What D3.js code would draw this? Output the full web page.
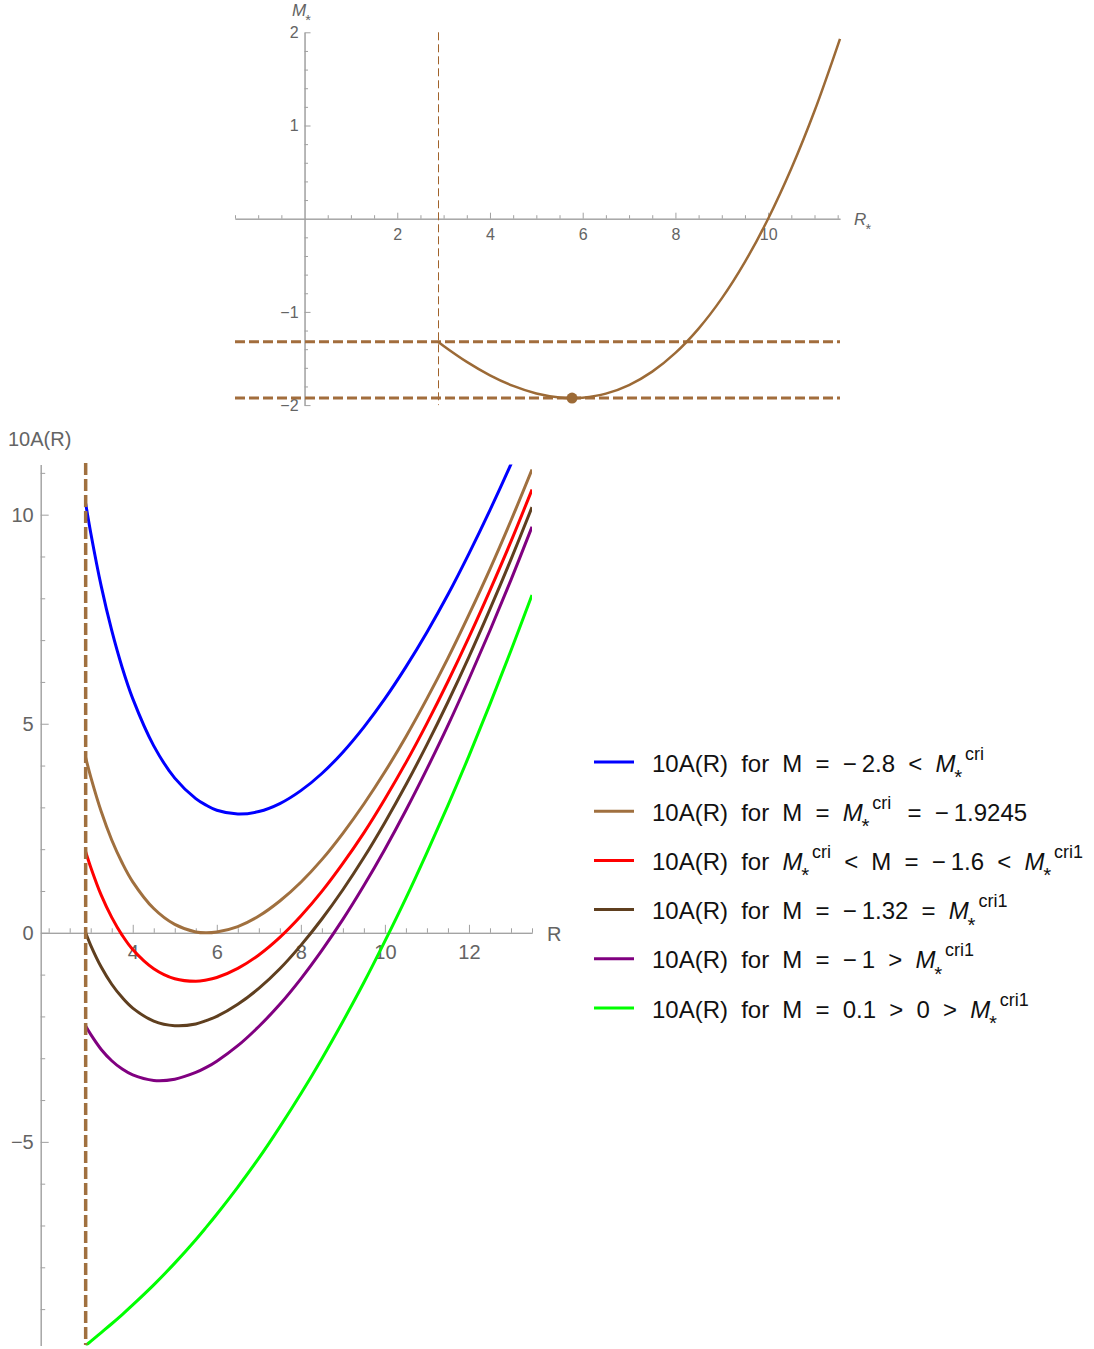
<!DOCTYPE html>
<html>
<head>
<meta charset="utf-8">
<script src="https://cdn.jsdelivr.net/npm/d3@7"></script>
<style>
  html, body { margin: 0; padding: 0; background: #fff; }
  text { font-family: "Liberation Sans", Arial, sans-serif; }
</style>
</head>
<body>
<svg id="fig" width="1094" height="1349"></svg>
<script>
// ---------- data ----------
// Upper panel: critical mass M*(R*) of the horizon radius
const rStar = [2.88, 3, 3.5, 4, 4.5, 5, 5.5, 5.77, 6, 6.5, 7, 7.5, 8, 8.5, 9, 9.5, 10, 10.5, 11, 11.55];
const mStar = [-1.32, -1.365, -1.536, -1.68, -1.794, -1.875, -1.918, -1.9245, -1.92, -1.877, -1.785, -1.641, -1.44, -1.179, -0.855, -0.463, 0, 0.538, 1.155, 1.93];
const rStart = 2.88;          // left end of the branch (vertical dashed line)
const mCri = -1.9245;         // minimum of M*
const rCri = 5.77;            // radius at the minimum
const mCri1 = -1.32;          // value at the left end

// Lower panel: 10A(R) for several masses M
const rGrid = [2.88, 3, 3.25, 3.5, 3.75, 4, 4.5, 5, 5.5, 5.75, 6, 6.5, 7, 7.5, 8, 8.5, 9, 9.5, 10, 10.5, 11, 11.5, 12, 12.5, 13, 13.5];
const aBlue   = [10.27, 9.57, 8.29, 7.23, 6.34, 5.60, 4.47, 3.70, 3.21, 3.05, 2.93, 2.84, 2.90, 3.09, 3.40, 3.81, 4.32, 4.92, 5.60, 6.36, 7.19, 8.09, 9.07, 10.11, 11.21, 12.37];
const aBrown  = [4.19, 3.73, 2.90, 2.22, 1.67, 1.22, 0.58, 0.20, 0.02, 0.00, 0.02, 0.15, 0.40, 0.76, 1.21, 1.75, 2.38, 3.08, 3.85, 4.69, 5.60, 6.57, 7.61, 8.70, 9.86, 11.08];
const aRed    = [1.94, 1.57, 0.90, 0.37, -0.06, -0.40, -0.86, -1.10, -1.16, -1.13, -1.07, -0.85, -0.53, -0.11, 0.40, 0.99, 1.66, 2.39, 3.20, 4.07, 5.01, 6.01, 7.07, 8.19, 9.36, 10.60];
const aDark   = [0.00, -0.30, -0.82, -1.23, -1.55, -1.80, -2.11, -2.22, -2.18, -2.10, -2.00, -1.71, -1.33, -0.86, -0.30, 0.33, 1.03, 1.80, 2.64, 3.54, 4.50, 5.52, 6.60, 7.74, 8.93, 10.18];
const aPurple = [-2.23, -2.43, -2.79, -3.06, -3.26, -3.40, -3.53, -3.50, -3.34, -3.22, -3.07, -2.70, -2.24, -1.71, -1.10, -0.42, 0.32, 1.13, 2.00, 2.93, 3.92, 4.96, 6.07, 7.23, 8.44, 9.71];
const aGreen  = [-9.87, -9.77, -9.56, -9.35, -9.13, -8.90, -8.42, -7.90, -7.34, -7.04, -6.73, -6.08, -5.39, -4.64, -3.85, -3.01, -2.12, -1.19, -0.20, 0.83, 1.92, 3.05, 4.23, 5.47, 6.75, 8.08];

const seriesNames = ["blue", "brown", "red", "dark", "purple", "green"];
const seriesValues = [aBlue, aBrown, aRed, aDark, aPurple, aGreen];
const seriesColors = ["#0000ff", "#a0703f", "#ff0000", "#5f3f1f", "#800080", "#00ff00"];

// legend rows: pieces of text; it = italic, sub = subscript, sup = superscript, dx = extra gap before
const mSub = [{t: "M", it: 1}, {t: "*", sub: 1}];
const legendRows = [
  [{t: "10A(R) for M = \u2212"}, {t: "2.8 < ", dx: 5}, ...mSub, {t: "cri", sup: 1}],
  [{t: "10A(R) for M = "}, ...mSub, {t: "cri", sup: 1}, {t: " = \u2212", dx: 3}, {t: "1.9245", dx: 5}],
  [{t: "10A(R) for "}, ...mSub, {t: "cri", sup: 1}, {t: " < M = \u2212"}, {t: "1.6 < ", dx: 5}, ...mSub, {t: "cri1", sup: 1}],
  [{t: "10A(R) for M = \u2212"}, {t: "1.32 = ", dx: 5}, ...mSub, {t: "cri1", sup: 1}],
  [{t: "10A(R) for M = \u2212"}, {t: "1 > ", dx: 5}, ...mSub, {t: "cri1", sup: 1}],
  [{t: "10A(R) for M = 0.1 > 0 > "}, ...mSub, {t: "cri1", sup: 1}]
];

// ---------- helpers ----------
const svg = d3.select("#fig");
const axisGrey = "#a0a0a0";
const labelGrey = "#646464";

// writes a run of text pieces with sub/superscripts into a <text>
function richText(textSel, parts, fs) {
  let cur = 0;
  parts.forEach(p => {
    let target = 0, size = fs, dx = p.dx || 0;
    if (p.sub) { target = 0.52 * fs; size = 0.85 * fs; dx -= 0.05 * fs; }
    if (p.sup) { target = -0.5 * fs; size = 0.75 * fs; dx += 0.12 * fs; }
    const ts = textSel.append("tspan").text(p.t).attr("font-size", size)
      .attr("dy", target - cur).attr("dx", dx);
    if (p.it) ts.attr("font-style", "italic");
    cur = target;
  });
}

function styleAxis(g, fs) {
  g.select(".domain").attr("stroke", axisGrey).attr("stroke-width", 1);
  g.selectAll(".tick line").attr("stroke", axisGrey).attr("stroke-width", 1);
  g.selectAll(".tick text").attr("fill", labelGrey).attr("font-size", fs)
    .attr("font-family", "'Liberation Sans', Arial, sans-serif");
}

const fmt = d => (d < 0 ? "\u2212" + Math.abs(d) : String(d));

// ---------- upper panel ----------
const tx = d3.scaleLinear().domain([-1.5, 11.55]).range([235, 840]);
const ty = d3.scaleLinear().domain([-2, 2]).range([405.1, 32.3]);

const upper = svg.append("g");
const txMinor = d3.range(-1.5, 11.51, 0.5).filter(v => Math.abs(v % 2) > 1e-9);
const tyMinor = d3.range(-2, 2.001, 0.2).map(v => +v.toFixed(1)).filter(v => Math.abs(v % 1) > 1e-9);

upper.append("g").attr("transform", `translate(0,${ty(0)})`)
  .call(d3.axisBottom(tx).tickValues(txMinor).tickSize(-3.5).tickSizeOuter(0).tickFormat(""))
  .call(g => styleAxis(g, 16));
upper.append("g").attr("transform", `translate(0,${ty(0)})`)
  .call(d3.axisBottom(tx).tickValues([2, 4, 6, 8, 10]).tickSize(-6).tickSizeOuter(0).tickPadding(10).tickFormat(fmt))
  .call(g => styleAxis(g, 16));
upper.append("g").attr("transform", `translate(${tx(0)},0)`)
  .call(d3.axisLeft(ty).tickValues(tyMinor).tickSize(-3.5).tickSizeOuter(0).tickFormat(""))
  .call(g => styleAxis(g, 16));
upper.append("g").attr("transform", `translate(${tx(0)},0)`)
  .call(d3.axisLeft(ty).tickValues([-2, -1, 1, 2]).tickSize(-6).tickSizeOuter(0).tickPadding(6).tickFormat(fmt))
  .call(g => styleAxis(g, 16));

// axis labels
richText(upper.append("text").attr("x", 292).attr("y", 16).attr("fill", labelGrey),
  [{t: "M", it: 1}, {t: "*", sub: 1}], 17);
richText(upper.append("text").attr("x", 854).attr("y", 225).attr("fill", labelGrey),
  [{t: "R", it: 1}, {t: "*", sub: 1}], 17);

const topBrown = "#9c6a36";
// vertical thin dashed line at the left end of the branch
const xStart = Math.round(tx(rStart)) + 0.5;
upper.append("line")
  .attr("x1", xStart).attr("x2", xStart).attr("y1", ty(2)).attr("y2", ty(-2))
  .attr("stroke", "#a0622a").attr("stroke-width", 1).attr("stroke-dasharray", "8,4");
// horizontal dashed levels
[mCri1, mCri].forEach(m => {
  upper.append("line")
    .attr("x1", tx(-1.5)).attr("x2", tx(11.55)).attr("y1", ty(m)).attr("y2", ty(m))
    .attr("stroke", "#a26d3c").attr("stroke-width", 3).attr("stroke-dasharray", "10,4");
});
// the curve
upper.append("path")
  .datum(rStar.map((r, i) => [r, mStar[i]]))
  .attr("fill", "none").attr("stroke", topBrown).attr("stroke-width", 2.5)
  .attr("d", d3.line().x(d => tx(d[0])).y(d => ty(d[1])).curve(d3.curveCatmullRom.alpha(0.5)));
// minimum point
upper.append("circle").attr("cx", tx(rCri)).attr("cy", ty(mCri)).attr("r", 5.5).attr("fill", topBrown);

// ---------- lower panel ----------
const bx = d3.scaleLinear().domain([1.81, 13.5]).range([40.7, 532]);
const by = d3.scaleLinear().domain([-9.87, 11.2]).range([1345.5, 464.5]);

const lower = svg.append("g");
const bxMinor = d3.range(2, 13.51, 0.5).filter(v => !(v >= 4 && Math.abs(v % 2) < 1e-9));
const byMinor = d3.range(-9, 11.01, 1).filter(v => v % 5 !== 0);

lower.append("g").attr("transform", `translate(0,${by(0)})`)
  .call(d3.axisBottom(bx).tickValues(bxMinor).tickSize(-4.5).tickSizeOuter(0).tickFormat(""))
  .call(g => styleAxis(g, 20));
lower.append("g").attr("transform", `translate(0,${by(0)})`)
  .call(d3.axisBottom(bx).tickValues([4, 6, 8, 10, 12]).tickSize(-8).tickSizeOuter(0).tickPadding(12).tickFormat(fmt))
  .call(g => styleAxis(g, 20));
lower.append("g").attr("transform", `translate(${bx(1.81)},0)`)
  .call(d3.axisLeft(by).tickValues(byMinor).tickSize(-4.5).tickSizeOuter(0).tickFormat(""))
  .call(g => styleAxis(g, 20));
lower.append("g").attr("transform", `translate(${bx(1.81)},0)`)
  .call(d3.axisLeft(by).tickValues([-5, 0, 5, 10]).tickSize(-8).tickSizeOuter(0).tickPadding(7).tickFormat(fmt))
  .call(g => styleAxis(g, 20));

lower.append("text").attr("x", 8).attr("y", 446).attr("fill", labelGrey).attr("font-size", 20).text("10A(R)");
lower.append("text").attr("x", 547).attr("y", 941).attr("fill", labelGrey).attr("font-size", 20).text("R");

// clip region for the curves
svg.append("defs").append("clipPath").attr("id", "plotClip")
  .append("rect").attr("x", bx(1.81)).attr("y", by(11.2)).attr("width", bx(13.5) - bx(1.81)).attr("height", by(-9.87) - by(11.2));

const curves = lower.append("g").attr("clip-path", "url(#plotClip)");
const line = d3.line().x(d => bx(d[0])).y(d => by(d[1])).curve(d3.curveCatmullRom.alpha(0.5));
seriesValues.forEach((vals, k) => {
  curves.append("path")
    .datum(rGrid.map((r, i) => [r, vals[i]]))
    .attr("class", "curve-" + seriesNames[k])
    .attr("fill", "none").attr("stroke", seriesColors[k]).attr("stroke-width", 3)
    .attr("d", line);
});

// thick dashed vertical at the left end of the domain
lower.append("line")
  .attr("x1", bx(rStart)).attr("x2", bx(rStart)).attr("y1", 463).attr("y2", 1345)
  .attr("stroke", "#a0703f").attr("stroke-width", 3.5).attr("stroke-dasharray", "12,4");

// ---------- legend ----------
const legend = svg.append("g");
legendRows.forEach((parts, i) => {
  const y = 762 + i * 49.2;
  legend.append("line").attr("x1", 594).attr("x2", 634).attr("y1", y).attr("y2", y)
    .attr("stroke", seriesColors[i]).attr("stroke-width", 3);
  richText(legend.append("text").attr("x", 652).attr("y", y + 9.5)
    .attr("fill", "#111").attr("word-spacing", 6.5), parts, 24);
});
</script>
</body>
</html>
